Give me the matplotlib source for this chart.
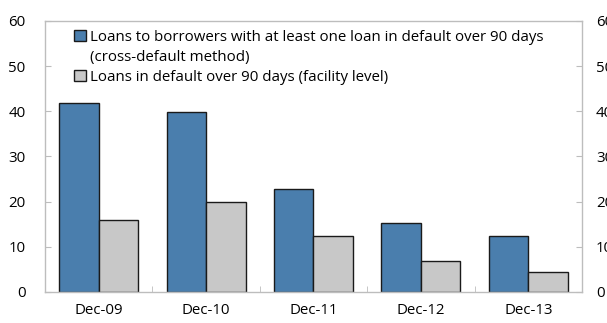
import numpy as np
import matplotlib.pyplot as plt
from matplotlib.patches import Patch

plt.rcParams['font.family'] = ['Open Sans', 'DejaVu Sans']

# data
periods = ['Dec-09', 'Dec-10', 'Dec-11', 'Dec-12', 'Dec-13']
cross_default = [41.9, 39.8, 22.9, 15.2, 12.5]
facility_level = [15.9, 20.0, 12.5, 6.8, 4.4]
label_cross = 'Loans to borrowers with at least one loan in default over 90 days'
label_cross_2 = '(cross-default method)'
label_facility = 'Loans in default over 90 days (facility level)'

blue = '#4A7EAD'
grey = '#C8C8C8'
edge = '#1a1a1a'

fig = plt.figure(figsize=(6.07, 3.23), dpi=100)
ax = fig.add_axes([0.0741, 0.096, 0.8847, 0.839])

x = np.arange(len(periods))
w = 0.368
ax.bar(x - w / 2, cross_default, w, color=blue, edgecolor=edge, linewidth=1)
ax.bar(x + w / 2, facility_level, w, color=grey, edgecolor=edge, linewidth=1)

ax.set_xlim(-0.5, len(periods) - 0.5)
ax.set_ylim(0, 60)
ax.set_yticks(range(0, 61, 10))
ax.set_xticks(x)
ax.set_xticklabels(periods)
ax.set_xticks(np.arange(0.5, len(periods) - 1, 1), minor=True)

for s in ax.spines.values():
    s.set_color('#BDBDBD')
    s.set_linewidth(1)

fs = 10.8
ax.tick_params(axis='x', which='major', length=0, pad=8, labelsize=fs)
ax.tick_params(axis='x', which='minor', direction='in', length=4, color='#BDBDBD')
ax.tick_params(axis='y', direction='in', length=4, color='#BDBDBD', pad=14, labelsize=fs)

ax2 = ax.twinx()
ax2.set_ylim(0, 60)
ax2.set_yticks(range(0, 61, 10))
ax2.tick_params(axis='y', direction='in', length=4, color='#BDBDBD', pad=10, labelsize=fs)
for s in ax2.spines.values():
    s.set_visible(False)

# legend: handle sits on the first line of the wrapped label
handles = [Patch(facecolor=blue, edgecolor=edge, linewidth=1),
           Patch(facecolor='none', edgecolor='none'),
           Patch(facecolor=grey, edgecolor=edge, linewidth=1)]
ax.legend(handles, [label_cross, label_cross_2, label_facility],
          loc='upper left', bbox_to_anchor=(0.038, 1.0), frameon=False, fontsize=fs,
          handlelength=0.75, handleheight=0.75, handletextpad=0.3, labelspacing=0.33,
          borderaxespad=0.2)

fig.savefig('out.png', dpi=100)
